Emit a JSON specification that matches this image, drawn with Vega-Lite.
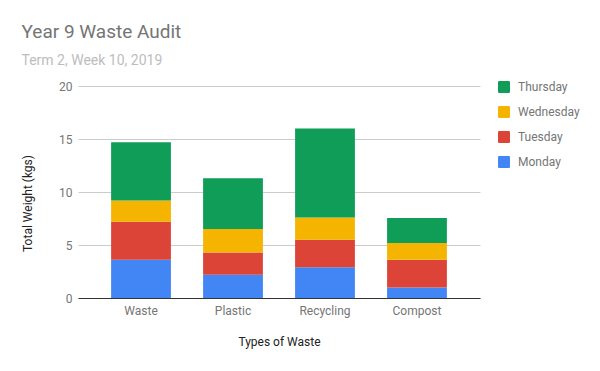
{
  "$schema": "https://vega.github.io/schema/vega-lite/v6.json",
  "autosize": "none",
  "width": 402,
  "height": 212,
  "padding": {"left": 78, "top": 86, "right": 120, "bottom": 73},
  "background": "white",
  "title": {
    "text": "Year 9 Waste Audit",
    "subtitle": "Term 2, Week 10, 2019",
    "anchor": "start",
    "font": "Roboto",
    "fontSize": 19,
    "fontWeight": "normal",
    "color": "#757575",
    "subtitleFont": "Roboto",
    "subtitleFontSize": 14,
    "subtitleColor": "#bdbdbd",
    "subtitlePadding": 12,
    "offset": 12
  },
  "data": {
    "values": [
      {"type": "Waste", "day": "Monday", "dayNum": 1, "weight": 3.6},
      {"type": "Waste", "day": "Tuesday", "dayNum": 2, "weight": 3.6},
      {"type": "Waste", "day": "Wednesday", "dayNum": 3, "weight": 2.0},
      {"type": "Waste", "day": "Thursday", "dayNum": 4, "weight": 5.5},
      {"type": "Plastic", "day": "Monday", "dayNum": 1, "weight": 2.2},
      {"type": "Plastic", "day": "Tuesday", "dayNum": 2, "weight": 2.1},
      {"type": "Plastic", "day": "Wednesday", "dayNum": 3, "weight": 2.2},
      {"type": "Plastic", "day": "Thursday", "dayNum": 4, "weight": 4.8},
      {"type": "Recycling", "day": "Monday", "dayNum": 1, "weight": 2.9},
      {"type": "Recycling", "day": "Tuesday", "dayNum": 2, "weight": 2.6},
      {"type": "Recycling", "day": "Wednesday", "dayNum": 3, "weight": 2.1},
      {"type": "Recycling", "day": "Thursday", "dayNum": 4, "weight": 8.4},
      {"type": "Compost", "day": "Monday", "dayNum": 1, "weight": 1.0},
      {"type": "Compost", "day": "Tuesday", "dayNum": 2, "weight": 2.6},
      {"type": "Compost", "day": "Wednesday", "dayNum": 3, "weight": 1.6},
      {"type": "Compost", "day": "Thursday", "dayNum": 4, "weight": 2.35}
    ]
  },
  "mark": {"type": "bar"},
  "encoding": {
    "x": {
      "field": "type",
      "type": "nominal",
      "sort": ["Waste", "Plastic", "Recycling", "Compost"],
      "scale": {"paddingInner": 0.35, "paddingOuter": 0.36},
      "axis": {
        "title": "Types of Waste",
        "labelAngle": 0,
        "ticks": false,
        "tickSize": 0,
        "labelPadding": 7,
        "labelFont": "Roboto",
        "labelFontSize": 12,
        "labelColor": "#757575",
        "titleFont": "Roboto",
        "titleFontSize": 12,
        "titleFontWeight": "normal",
        "titleColor": "#222222",
        "titlePadding": 20,
        "domainColor": "#333333",
        "domainWidth": 1,
        "grid": false
      }
    },
    "y": {
      "field": "weight",
      "type": "quantitative",
      "aggregate": "sum",
      "stack": "zero",
      "scale": {"domain": [0, 20], "nice": false},
      "axis": {
        "title": "Total Weight (kgs)",
        "values": [0, 5, 10, 15, 20],
        "ticks": false,
        "tickSize": 0,
        "domain": false,
        "labelPadding": 6,
        "labelFont": "Roboto",
        "labelFontSize": 12,
        "labelColor": "#757575",
        "titleFont": "Roboto",
        "titleFontSize": 12,
        "titleFontWeight": "normal",
        "titleColor": "#222222",
        "titlePadding": 24,
        "titleY": 117,
        "gridColor": "#cccccc",
        "gridWidth": 1
      }
    },
    "color": {
      "field": "day",
      "type": "nominal",
      "scale": {
        "domain": ["Thursday", "Wednesday", "Tuesday", "Monday"],
        "range": ["#0F9D58", "#F4B400", "#DB4437", "#4285F4"]
      },
      "legend": {
        "title": null,
        "orient": "none",
        "legendX": 420,
        "legendY": -5,
        "symbolType": "M-0.8,-1H0.8Q1,-1 1,-0.8V0.8Q1,1 0.8,1H-0.8Q-1,1 -1,0.8V-0.8Q-1,-1 -0.8,-1Z",
        "symbolSize": 144,
        "symbolStrokeWidth": 0,
        "labelFont": "Roboto",
        "labelFontSize": 12,
        "labelColor": "#757575",
        "labelOffset": 8,
        "rowPadding": 13
      }
    },
    "order": {"field": "dayNum", "type": "quantitative"}
  },
  "config": {
    "view": {"stroke": null}
  }
}
